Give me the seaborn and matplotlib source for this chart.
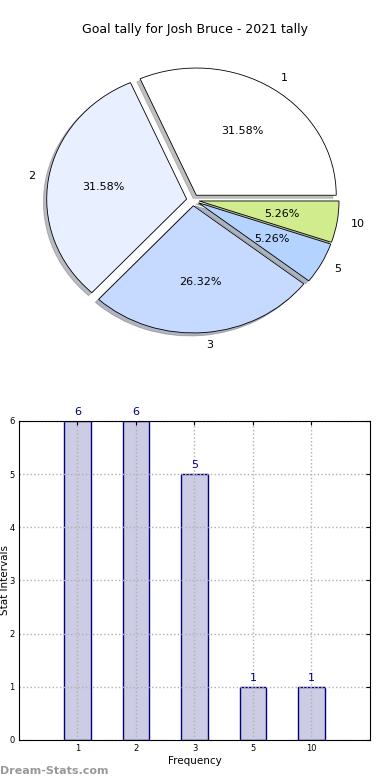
import matplotlib
matplotlib.use("Agg")
import matplotlib.pyplot as plt
import seaborn as sns
import pandas as pd

# ==========================
# Data
# ==========================

categories = ["1", "2", "3", "5", "10"]
goal_counts = [6, 6, 5, 1, 1]
slice_colors = ["#ffffff", "#e8efff", "#c6d9ff", "#b5d3ff", "#d0ec8c"]
chart_title = "Goal tally for Josh Bruce - 2021 tally"

df = pd.DataFrame({"Frequency": categories, "Count": goal_counts})

sns.set_style("white")
plt.rcParams["font.family"] = ["DejaVu Sans"]
plt.rcParams["text.color"] = "black"
plt.rcParams["axes.labelcolor"] = "black"
plt.rcParams["xtick.color"] = "black"
plt.rcParams["ytick.color"] = "black"

fig = plt.figure(figsize=(3.9, 7.8), dpi=100)

# ==========================
# Pie chart
# ==========================

ax_pie = fig.add_axes([0.046, 0.5397, 0.897, 0.4077])
wedges, texts, autotexts = ax_pie.pie(
    df["Count"],
    labels=df["Frequency"],
    colors=slice_colors,
    explode=[0.045] * len(categories),
    autopct="%.2f%%",
    startangle=0,
    shadow={"ox": -0.017, "oy": -0.017, "shade": 0.5},
    wedgeprops={"edgecolor": "black", "linewidth": 0.6},
    textprops={"fontsize": 8},
)
ax_pie.set_aspect("auto")
ax_pie.set_xlim(-1.25, 1.25)
ax_pie.set_ylim(-1.25, 1.25)
fig.text(0.5, 1 - 30 / 780, chart_title, ha="center", va="center", fontsize=9)

# ==========================
# Bar chart
# ==========================

ax_bar = fig.add_axes([0.0487, 0.0513, 0.9, 0.409])
sns.barplot(
    data=df,
    x="Frequency",
    y="Count",
    order=categories,
    color="#ccccE4",
    saturation=1,
    edgecolor="#000080",
    linewidth=1,
    width=0.45,
    ax=ax_bar,
)
ax_bar.set_xlim(-1, 5)
ax_bar.set_ylim(0, 6)
ax_bar.set_yticks(range(0, 7))
ax_bar.set_xlabel("Frequency", fontsize=7.5, labelpad=2)
ax_bar.set_ylabel("Stat Intervals", fontsize=7.5)
ax_bar.yaxis.set_label_coords(-0.027, 0.5)
ax_bar.tick_params(axis="both", labelsize=6, direction="in", length=3,
                   top=True, right=True, pad=3)
ax_bar.grid(True, linestyle=":", color="#b0b0b0", linewidth=1)
ax_bar.set_axisbelow(False)
for spine in ax_bar.spines.values():
    spine.set_color("black")
    spine.set_linewidth(0.8)
    spine.set_zorder(5)

for i, v in enumerate(goal_counts):
    ax_bar.annotate(str(v), (i, v), xytext=(0, 3), textcoords="offset points",
                    ha="center", va="bottom", fontsize=8, color="#000080")

fig.text(0.0, 1 - 771 / 780, "Dream-Stats.com", ha="left", va="center",
         fontsize=8, color="#999999", fontweight="bold")

fig.savefig("out.png", dpi=100)
